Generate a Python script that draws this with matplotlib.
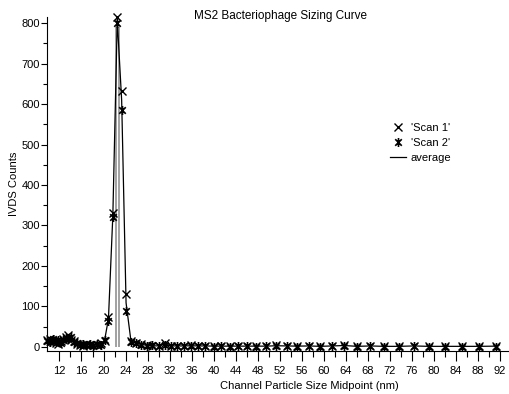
import numpy as np
import matplotlib.pyplot as plt
from matplotlib.path import Path
from matplotlib.lines import Line2D

plt.rcParams['font.family'] = ['Liberation Sans', 'DejaVu Sans']

# channel particle size midpoints (nm)
size_nm = [9.82, 10.2, 10.6, 10.9, 11.3, 11.8, 12.2, 12.6, 13.1, 13.6,
           14.1, 14.6, 15.1, 15.7, 16.3, 16.8, 17.5, 18.1, 18.8, 19.5,
           20.2, 20.9, 21.7, 22.5, 23.3, 24.1, 25.0, 25.9, 26.9, 27.9,
           28.9, 30.0, 31.1, 32.2, 33.4, 34.6, 35.9, 37.2, 38.5, 40.0,
           41.4, 42.9, 44.5, 46.1, 47.8, 49.6, 51.4, 53.3, 55.2, 57.3,
           59.4, 61.5, 63.8, 66.1, 68.5, 71.0, 73.7, 76.4, 79.1, 82.0,
           85.1, 88.2, 91.4]

scan1 = [18, 20, 15, 12, 10, 8, 15, 20, 25, 30,
         18, 15, 8, 5, 3, 8, 5, 6, 4, 10,
         15, 75, 330, 815, 633, 130, 15, 10, 8, 5,
         2, 3, 10, 2, 3, 2, 4, 3, 2, 3,
         2, 3, 2, 2, 3, 2, 4, 3, 3, 3,
         2, 3, 5, 2, 3, 2, 2, 3, 2, 2,
         2, 2, 3]

scan2 = [15, 12, 18, 20, 14, 18, 10, 18, 22, 20,
         25, 12, 10, 6, 7, 4, 8, 3, 8, 6,
         18, 65, 322, 800, 585, 88, 12, 9, 5, 3,
         4, 2, 4, 3, 2, 3, 2, 2, 3, 1,
         2, 1, 2, 2, 1, 2, 2, 2, 1, 2,
         1, 2, 2, 1, 2, 1, 1, 2, 1, 1,
         1, 1, 1]

average = [(a + b) / 2 for a, b in zip(scan1, scan2)]

# the two grey drop lines under the peak
drop_x = [22.2, 22.8]
drop_top = 790

x_ticks = list(range(12, 93, 4))
y_ticks = list(range(0, 801, 100))

# asterisk marker: x with a vertical bar
star = Path([(-0.8, -0.8), (0.8, 0.8), (-0.8, 0.8), (0.8, -0.8), (0, -1.1), (0, 1.1)],
            [Path.MOVETO, Path.LINETO, Path.MOVETO, Path.LINETO,
             Path.MOVETO, Path.LINETO])

fig = plt.figure(figsize=(5.09, 3.94), dpi=100)
ax = fig.add_axes([47 / 509, 1 - 351 / 394, 462 / 509, 334 / 394])

ax.vlines(drop_x, 0, drop_top, color='#9a9a9a', lw=1.3)
ax.plot(size_nm, average, color='black', lw=0.9, label='average')
ax.plot(size_nm, scan1, ls='none', marker='x', ms=5.5, mew=1.0,
        color='black', clip_on=False, label="'Scan 1'")
ax.plot(size_nm, scan2, ls='none', marker=star, ms=6.5, mew=1.2,
        color='black', clip_on=False, label="'Scan 2'")

ax.set_xlim(9.73, 93.7)
ax.set_ylim(-10, 815)
ax.set_xticks(x_ticks)
ax.set_xticks([t + 2 for t in x_ticks[:-1]], minor=True)
ax.set_yticks(y_ticks)
ax.set_yticks([t + 50 for t in y_ticks[:-1]], minor=True)

for s in ['top', 'right']:
    ax.spines[s].set_visible(False)
ax.spines['left'].set_linewidth(0.8)
ax.spines['bottom'].set_linewidth(0.8)

ax.tick_params(axis='x', which='major', length=7, width=0.8, pad=4, labelsize=8)
ax.tick_params(axis='x', which='minor', length=4, width=0.8)
ax.tick_params(axis='y', which='major', length=4, width=0.8, pad=1, labelsize=8)
ax.tick_params(axis='y', which='minor', length=3, width=0.8)

fig.text(281 / 509, 1 - 16 / 394, 'MS2 Bacteriophage Sizing Curve', fontsize=8.5,
         ha='center', va='center')
ax.set_xlabel('Channel Particle Size Midpoint (nm)', fontsize=8)
ax.xaxis.set_label_coords(0.567, -0.09)
ax.set_ylabel('IVDS Counts', fontsize=8, labelpad=2)

handles = [Line2D([], [], ls='none', marker='x', ms=5.5, mew=1.0, color='black'),
           Line2D([], [], ls='none', marker=star, ms=6.5, mew=1.2, color='black'),
           Line2D([], [], color='black', lw=0.9)]
ax.legend(handles, ["'Scan 1'", "'Scan 2'", 'average'], loc='upper left',
          bbox_to_anchor=(0.73, 0.70), frameon=False, fontsize=8,
          handlelength=1.5, handletextpad=0.4, labelspacing=0.45,
          borderpad=0)

fig.savefig('out.png', dpi=100)
